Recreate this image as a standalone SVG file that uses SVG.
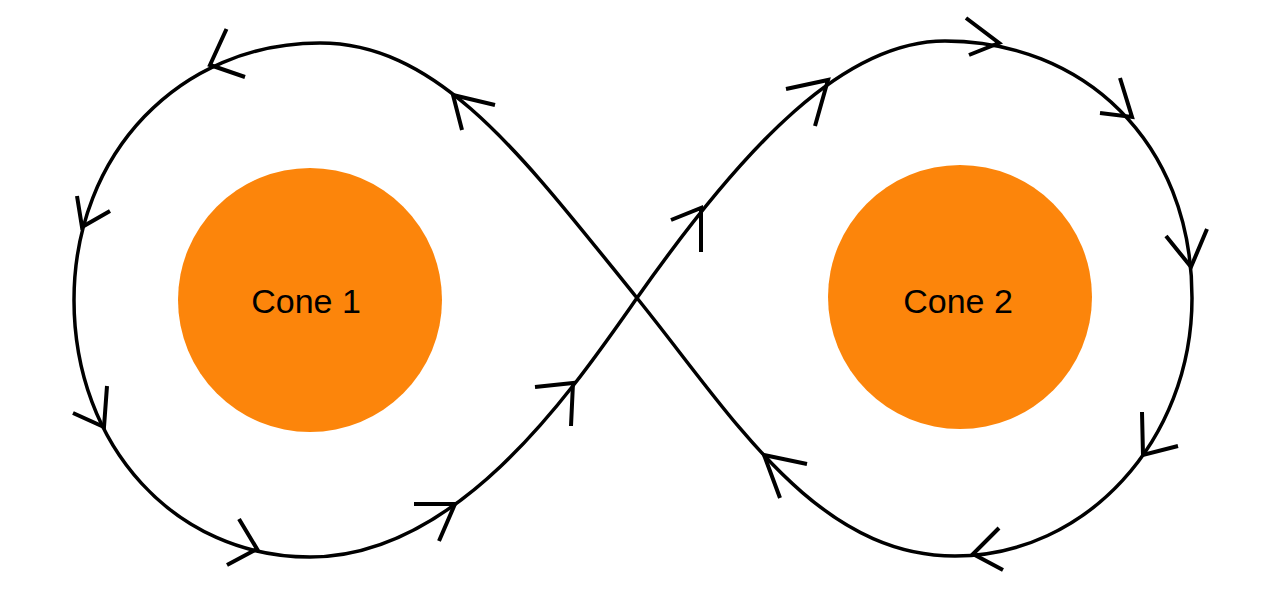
<svg xmlns="http://www.w3.org/2000/svg" width="1280" height="600" viewBox="0 0 1280 600">
<style>
.cone{fill:#fc850b}
.lbl{font-family:"Liberation Sans",Arial,sans-serif;font-size:34px;fill:#000;text-anchor:middle}
.track{fill:none;stroke:#000;stroke-width:3.5;stroke-linejoin:round}
.ah{fill:none;stroke:#000;stroke-width:4;stroke-linejoin:miter}
</style>
<rect width="1280" height="600" fill="#fff"/>
<g id="cone1">
<circle class="cone" cx="310" cy="300" r="132"/>
<text class="lbl" x="306" y="313">Cone 1</text>
</g>
<g id="cone2">
<circle class="cone" cx="960" cy="297" r="132"/>
<text class="lbl" x="958" y="313">Cone 2</text>
</g>
<g id="connectors">
<path class="track" d="M637,298 C746.3,142.6 845,41 945,41 C1081.4,41 1192,140 1192,298 C1192,440.5 1085.9,556 955,556 C815,556 731.4,414.6 637,298 C523.8,158.1 440,43 320,43 C179.8,43 74,153.5 74,300 C74,446.5 175.5,557 310,557 C460,557 573.7,388 637,298 Z"/>
<polyline class="ah" points="226.5,29 210,65 245,77"/>
<polyline class="ah" points="495,105 453,95 462,130"/>
<polyline class="ah" points="77,196 82,227 110,211"/>
<polyline class="ah" points="671,220 701,208 701,252"/>
<polyline class="ah" points="786,89 828,80 815,126"/>
<polyline class="ah" points="966,18 999,43 969,55"/>
<polyline class="ah" points="1120,78 1132,117 1100,113"/>
<polyline class="ah" points="1166,236 1191,267 1207,229"/>
<polyline class="ah" points="107,386 104,427 73,413"/>
<polyline class="ah" points="239,519 257,549 227,565"/>
<polyline class="ah" points="414,504 455,504 439,541"/>
<polyline class="ah" points="535,387 573,383 571,426"/>
<polyline class="ah" points="1142,412 1143,455 1178,446"/>
<polyline class="ah" points="999,528 973,554 1003,570"/>
<polyline class="ah" points="807,464 764,455 780,498"/>
</g>
</svg>
